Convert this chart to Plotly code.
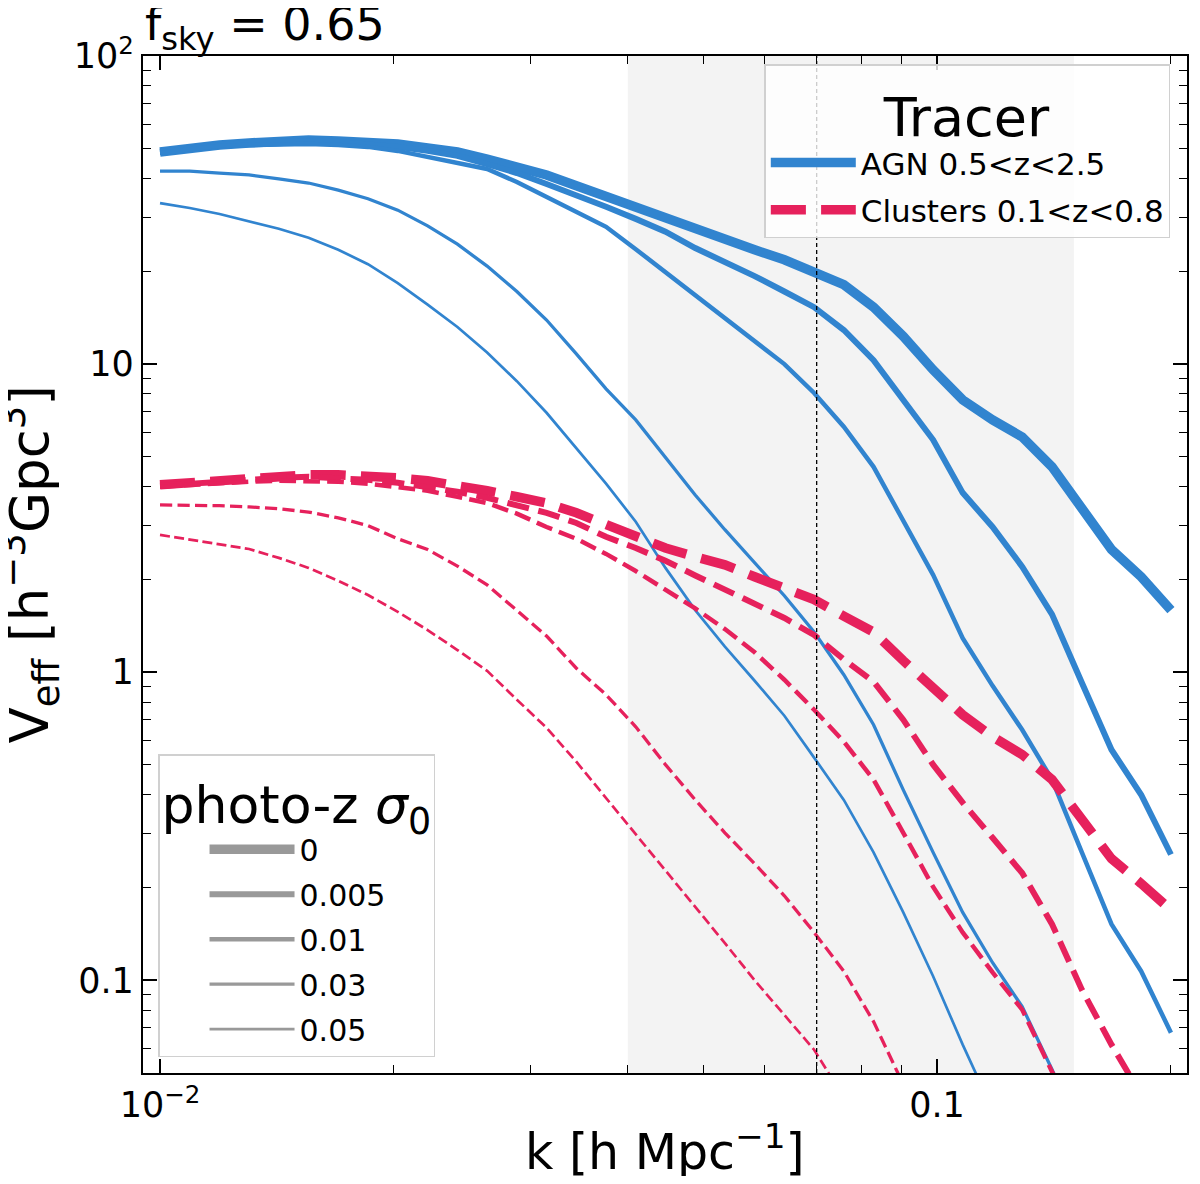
import plotly.graph_objects as go

# wavenumber grid [h/Mpc]
k = [0.01, 0.01092, 0.01193, 0.01302, 0.01422, 0.01553, 0.01696, 0.01852, 0.02023,
     0.02210, 0.02414, 0.02636, 0.02879, 0.03144, 0.03434, 0.03750, 0.04095, 0.04472,
     0.04884, 0.05333, 0.05824, 0.06361, 0.06947, 0.07586, 0.08285, 0.09048, 0.09884,
     0.1079, 0.1179, 0.1287, 0.1406, 0.1536, 0.1677, 0.1831, 0.2]

# V_eff [h^-3 Gpc^3], AGN 0.5<z<2.5, one list per photo-z sigma_0
agn_s0 = [48.8, 50.3, 51.4, 52.2, 53.0, 53.4, 53.0, 52.6, 51.8, 50.3, 48.8, 46.3, 44.0,
          41.1, 37.9, 34.9, 32.4, 29.8, 27.7, 25.5, 23.5, 21.8, 19.9, 18.1, 15.3, 12.3,
          9.58, 7.65, 6.59, 5.80, 4.64, 3.36, 2.50, 2.04, 1.59]
agn_s0005 = [48.8, 50.3, 51.4, 52.2, 52.6, 53.0, 52.6, 51.8, 50.7, 49.2, 47.4, 44.6, 41.7,
             38.4, 35.4, 32.4, 29.6, 26.9, 23.8, 21.5, 19.3, 17.2, 15.3, 12.9, 10.3, 7.65,
             5.68, 3.82, 2.96, 2.20, 1.54, 0.924, 0.560, 0.400, 0.256]
agn_s001 = [48.4, 49.9, 51.1, 51.4, 51.8, 51.8, 51.4, 50.7, 49.2, 47.0, 45.0, 43.0, 39.0,
            34.9, 31.2, 27.9, 23.6, 19.9, 16.8, 14.2, 11.9, 10.0, 8.06, 6.26, 4.64, 3.12,
            2.07, 1.29, 0.903, 0.650, 0.448, 0.260, 0.152, 0.107, 0.0676]
agn_s003 = [42.3, 42.3, 41.7, 41.1, 39.9, 38.7, 36.7, 34.4, 31.6, 28.1, 24.5, 20.8, 17.2,
            13.9, 10.8, 8.31, 6.59, 5.00, 3.76, 2.90, 2.26, 1.77, 1.35, 0.981, 0.675, 0.415,
            0.260, 0.166, 0.114, 0.0821, 0.0513, 0.0316]
agn_s005 = [33.3, 32.1, 30.7, 29.1, 27.5, 25.7, 23.5, 21.1, 18.3, 15.6, 13.2, 10.9, 8.80,
            6.95, 5.35, 4.09, 3.08, 2.18, 1.59, 1.21, 0.938, 0.722, 0.528, 0.385, 0.260,
            0.166, 0.103, 0.0618, 0.0380]

# V_eff, Clusters 0.1<z<0.8
cl_s0 = [4.06, 4.12, 4.21, 4.27, 4.34, 4.37, 4.37, 4.34, 4.27, 4.18, 4.06, 3.88, 3.71,
         3.54, 3.29, 3.01, 2.77, 2.53, 2.37, 2.23, 2.04, 1.88, 1.72, 1.52, 1.35, 1.09,
         0.890, 0.727, 0.617, 0.540, 0.448, 0.330, 0.248, 0.206, 0.169]
cl_s0005 = [4.03, 4.09, 4.18, 4.24, 4.27, 4.31, 4.27, 4.21, 4.12, 4.00, 3.85, 3.68, 3.49,
            3.29, 3.05, 2.75, 2.53, 2.30, 2.06, 1.85, 1.68, 1.50, 1.32, 1.10, 0.931, 0.701,
            0.501, 0.377, 0.290, 0.223, 0.152, 0.0932, 0.0618, 0.0425]
cl_s001 = [4.00, 4.06, 4.12, 4.15, 4.18, 4.18, 4.15, 4.09, 4.00, 3.88, 3.71, 3.54, 3.27,
           2.96, 2.71, 2.42, 2.13, 1.86, 1.61, 1.38, 1.16, 0.945, 0.755, 0.595, 0.448,
           0.301, 0.201, 0.143, 0.106, 0.0803, 0.0505, 0.0328]
cl_s003 = [3.49, 3.49, 3.47, 3.44, 3.39, 3.31, 3.17, 2.99, 2.71, 2.50, 2.21, 1.92, 1.59,
           1.31, 1.03, 0.845, 0.665, 0.501, 0.385, 0.301, 0.239, 0.188, 0.143, 0.107,
           0.0734, 0.0459]
cl_s005 = [2.79, 2.69, 2.59, 2.51, 2.35, 2.18, 1.98, 1.78, 1.57, 1.37, 1.18, 1.01, 0.814,
           0.660, 0.512, 0.391, 0.297, 0.228, 0.173, 0.132, 0.100, 0.0768, 0.0595, 0.0416]

sigma_labels = ["0", "0.005", "0.01", "0.03", "0.05"]
agn_series = [agn_s0, agn_s0005, agn_s001, agn_s003, agn_s005]
cl_series = [cl_s0, cl_s0005, cl_s001, cl_s003, cl_s005]

k_band = [0.04, 0.15]
k_line = 0.07
fsky = 0.65

blue = "#3184cf"
red = "#e6215c"
widths = [9.5, 6, 4.5, 3.3, 2.7]
font = "DejaVu Sans"

fig = go.Figure()

for i, ys in enumerate(agn_series):
    fig.add_trace(go.Scatter(x=k[:len(ys)], y=ys, mode="lines",
                             line=dict(color=blue, width=widths[i]),
                             name="AGN 0.5&lt;z&lt;2.5", legend="legend",
                             legendgroup="agn", showlegend=(i == 0)))

for i, ys in enumerate(cl_series):
    w = widths[i]
    fig.add_trace(go.Scatter(x=k[:len(ys)], y=ys, mode="lines",
                             line=dict(color=red, width=w,
                                       dash="%.1fpx,%.1fpx" % (3.7 * w, 1.6 * w)),
                             name="Clusters 0.1&lt;z&lt;0.8", legend="legend",
                             legendgroup="cl", showlegend=(i == 0)))

# grey proxies for the photo-z legend
for i, lab in enumerate(sigma_labels):
    fig.add_trace(go.Scatter(x=[None], y=[None], mode="lines",
                             line=dict(color="#999999", width=widths[i]),
                             name=lab, legend="legend2", legendgroup="s" + lab))

fig.add_vrect(x0=k_band[0], x1=k_band[1], fillcolor="#f3f3f3", line_width=0, layer="below")
fig.add_vline(x=k_line, line=dict(color="black", width=1.3, dash="4px,3px"))

fig.add_annotation(text="f<sub>sky</sub> = %.2f" % fsky, xref="paper", yref="paper",
                   x=0, y=1.0, xanchor="left", yanchor="bottom", yshift=-4, showarrow=False,
                   font=dict(size=46, color="black", family=font))

# axis titles as annotations so they can sit where the reference has them
fig.add_annotation(text="k [h Mpc<sup>−1</sup>]", xref="paper", yref="paper",
                   x=0.5, y=0, xanchor="center", yanchor="middle", yshift=-75,
                   showarrow=False, font=dict(size=49, color="black", family=font))
fig.add_annotation(text="V<sub>eff</sub> [h<sup>−3</sup>Gpc<sup>3</sup>]", xref="paper", yref="paper",
                   x=0, y=0.5, xanchor="center", yanchor="middle", xshift=-114, textangle=-90,
                   showarrow=False, font=dict(size=53, color="black", family=font))

axis_common = dict(showgrid=False, zeroline=False, showline=True, linecolor="black",
                   linewidth=2.4, mirror="allticks", ticks="inside", ticklen=14,
                   tickwidth=1.6, tickcolor="black", automargin=False,
                   tickfont=dict(size=35, color="black", family=font))

x_minor = [0.02, 0.03, 0.04, 0.05, 0.06, 0.07, 0.08, 0.09, 0.2]
y_minor = [0.06, 0.07, 0.08, 0.09, 0.2, 0.3, 0.4, 0.5, 0.6, 0.7, 0.8, 0.9,
           2, 3, 4, 5, 6, 7, 8, 9, 20, 30, 40, 50, 60, 70, 80, 90]

fig.update_xaxes(type="log", range=[-2.0219, -0.6783],
                 tickmode="array", tickvals=[0.01, 0.1],
                 ticktext=["10<sup>−2</sup>", "0.1"],
                 minor=dict(tickmode="array", tickvals=x_minor, ticks="inside",
                            ticklen=8, tickwidth=1.3, tickcolor="black"),
                 **axis_common)
fig.update_yaxes(type="log", range=[-1.30103, 2.0],
                 tickmode="array", tickvals=[0.1, 1, 10, 100],
                 ticktext=["0.1", "1", "10", "10<sup>2</sup>"],
                 minor=dict(tickmode="array", tickvals=y_minor, ticks="inside",
                            ticklen=8, tickwidth=1.3, tickcolor="black"),
                 **axis_common)

# page body keeps an 8px margin, so the figure is 16px smaller than the window
fig.update_layout(
    width=1184, height=1168,
    margin=dict(l=135, r=5, t=48, b=103, autoexpand=False),
    plot_bgcolor="white", paper_bgcolor="white",
    font=dict(family=font, color="black"),
    legend=dict(title=dict(text="Tracer", side="top center",
                           font=dict(size=54, family=font)),
                font=dict(size=31, family=font),
                x=0.984, y=0.992, xanchor="right", yanchor="top",
                bgcolor="rgba(255,255,255,0.8)", bordercolor="#d0d0d0", borderwidth=1.5,
                itemwidth=85, tracegroupgap=4),
    legend2=dict(title=dict(text="photo-z <i>σ</i><sub>0</sub>", side="top",
                            font=dict(size=52, family=font)),
                 font=dict(size=30, family=font),
                 x=0.0144, y=0.0157, xanchor="left", yanchor="bottom",
                 bgcolor="rgba(255,255,255,0.8)", bordercolor="#d0d0d0", borderwidth=1.5,
                 indentation=45, itemwidth=85, tracegroupgap=3),
)

fig.write_html("out.html")
